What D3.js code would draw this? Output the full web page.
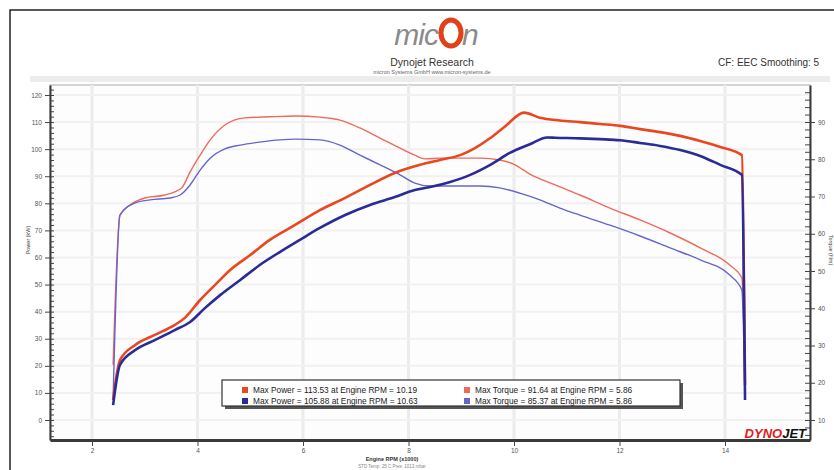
<!DOCTYPE html>
<html>
<head>
<meta charset="utf-8">
<script src="https://cdn.jsdelivr.net/npm/d3@7"></script>
<style>
	body { margin: 0; background: #fff; }
	svg { display: block; font-family: "Liberation Sans", Arial, sans-serif; }
</style>
</head>
<body>
<svg id="chart" width="834" height="470"></svg>
<script>
// engine rpm (x1000) for each run, one list per curve
const rpmRedPower = [2.40, 2.53, 2.82, 3.19, 3.57, 3.76, 4.05, 4.33, 4.62, 5.00, 5.37, 5.85, 6.32, 6.80, 7.27, 7.74, 8.22, 8.60, 8.98, 9.26, 9.55, 9.83, 10.19, 10.49, 10.87, 11.25, 11.63, 12.01, 12.39, 12.77, 13.15, 13.53, 13.91, 14.32, 14.38];
const redPower = [7.4, 22.1, 27.7, 31.4, 35.1, 37.7, 44.3, 49.8, 55.4, 60.9, 66.5, 72.0, 77.5, 82.0, 86.8, 91.2, 94.2, 96.0, 97.8, 100.4, 104.1, 108.4, 113.5, 111.6, 110.6, 110.0, 109.3, 108.6, 107.4, 106.3, 104.9, 103.0, 100.8, 97.8, 12.9];

const rpmBluePower = [2.40, 2.53, 2.82, 3.19, 3.57, 3.86, 4.14, 4.43, 4.81, 5.18, 5.56, 5.94, 6.32, 6.80, 7.27, 7.74, 8.12, 8.41, 8.79, 9.17, 9.55, 9.92, 10.30, 10.63, 10.78, 11.25, 11.63, 12.01, 12.39, 12.77, 13.15, 13.53, 13.91, 14.32, 14.38];
const bluePower = [5.5, 20.3, 25.8, 29.5, 33.2, 36.2, 41.3, 46.1, 51.7, 57.2, 62.0, 66.5, 70.9, 75.7, 79.4, 82.3, 84.9, 86.0, 87.9, 90.5, 94.2, 98.6, 101.8, 104.3, 104.2, 104.0, 103.7, 103.3, 102.3, 101.2, 99.7, 97.5, 94.2, 90.5, 7.4];

const rpmRedTorque = [2.40, 2.53, 2.72, 3.00, 3.38, 3.70, 3.86, 4.05, 4.24, 4.52, 4.90, 5.37, 5.86, 6.32, 6.70, 7.08, 7.46, 7.84, 8.12, 8.31, 8.60, 8.98, 9.36, 9.73, 10.02, 10.30, 10.78, 11.25, 11.82, 12.39, 12.96, 13.53, 14.09, 14.32, 14.38];
const redTorque = [24.8, 65.0, 67.7, 69.6, 70.4, 72.3, 76.6, 81.1, 85.2, 89.2, 91.1, 91.4, 91.6, 91.3, 90.5, 88.4, 85.7, 83.0, 81.1, 80.1, 80.3, 80.3, 80.3, 79.8, 78.5, 76.0, 73.1, 70.4, 66.9, 63.7, 60.2, 56.2, 51.6, 48.1, 20.7];

const rpmBlueTorque = [2.40, 2.53, 2.82, 3.10, 3.48, 3.67, 3.86, 4.05, 4.24, 4.52, 4.81, 5.18, 5.56, 5.86, 6.32, 6.70, 7.08, 7.46, 7.84, 8.12, 8.41, 8.98, 9.36, 9.73, 10.11, 10.49, 10.87, 11.25, 11.82, 12.39, 12.96, 13.53, 14.09, 14.32, 14.38];
const blueTorque = [15.4, 65.0, 68.3, 69.1, 69.6, 70.4, 73.1, 77.1, 80.3, 82.8, 83.8, 84.6, 85.2, 85.4, 85.2, 83.8, 81.1, 78.5, 75.8, 73.6, 72.8, 72.8, 72.8, 72.3, 70.9, 69.1, 66.9, 65.0, 62.3, 59.4, 56.2, 53.0, 48.9, 44.9, 15.4];

const xTicks = [2, 4, 6, 8, 10, 12, 14];
const powerTicks = [0, 10, 20, 30, 40, 50, 60, 70, 80, 90, 100, 110, 120];
const torqueTicks = [10, 20, 30, 40, 50, 60, 70, 80, 90];

const legendLines = [
	["Max Power = 113.53 at Engine RPM = 10.19", "Max Torque = 91.64 at Engine RPM = 5.86"],
	["Max Power = 105.88 at Engine RPM = 10.63", "Max Torque = 85.37 at Engine RPM = 5.86"],
];

const red = "#e8471f";
const blue = "#2b2b98";
const redLight = "#ef6a5a";
const blueLight = "#6565cc";

function drawChart() {
	const svg = d3.select("#chart");
	const plot = { left: 50, right: 810, top: 85, bottom: 440 };

	// outer frame
	svg.append("path")
		.attr("d", "M10,470 L10,10 L834,10")
		.attr("fill", "none")
		.attr("stroke", "#222")
		.attr("stroke-width", 1.5);

	// header: logo + titles
	const logo = svg.append("g");
	logo.append("text")
		.attr("x", 438)
		.attr("y", 45)
		.attr("text-anchor", "end")
		.attr("font-size", 30)
		.attr("font-style", "italic")
		.attr("fill", "#8a8a8a")
		.attr("letter-spacing", -1)
		.text("mic");
	logo.append("ellipse")
		.attr("cx", 451)
		.attr("cy", 33)
		.attr("rx", 10)
		.attr("ry", 13)
		.attr("fill", "none")
		.attr("stroke", "#e0401a")
		.attr("stroke-width", 5);
	logo.append("text")
		.attr("x", 462)
		.attr("y", 45)
		.attr("font-size", 30)
		.attr("font-style", "italic")
		.attr("fill", "#8a8a8a")
		.text("n");

	svg.append("text")
		.attr("x", 432)
		.attr("y", 66)
		.attr("text-anchor", "middle")
		.attr("font-size", 10.5)
		.attr("fill", "#333")
		.text("Dynojet Research");
	svg.append("text")
		.attr("x", 432)
		.attr("y", 74)
		.attr("text-anchor", "middle")
		.attr("font-size", 5.5)
		.attr("fill", "#666")
		.text("micron Systems GmbH  www.micron-systems.de");
	svg.append("text")
		.attr("x", 718)
		.attr("y", 66)
		.attr("font-size", 10)
		.attr("fill", "#333")
		.text("CF: EEC Smoothing: 5");

	svg.append("rect")
		.attr("x", 30)
		.attr("y", 76)
		.attr("width", 800)
		.attr("height", 6)
		.attr("fill", "#ececec");

	const x = d3.scaleLinear()
		.domain([2 + (plot.left - 92) / 52.75, 2 + (plot.right - 92) / 52.75])
		.range([plot.left, plot.right]);
	const yPower = d3.scaleLinear()
		.domain([120 - (plot.bottom - 95) / 2.708, 120 + (95 - plot.top) / 2.708])
		.range([plot.bottom, plot.top]);
	const yTorque = d3.scaleLinear()
		.domain([90 - (plot.bottom - 122) / 3.725, 90 + (122 - plot.top) / 3.725])
		.range([plot.bottom, plot.top]);

	// plot background and grid
	svg.append("rect")
		.attr("x", plot.left)
		.attr("y", plot.top)
		.attr("width", plot.right - plot.left)
		.attr("height", plot.bottom - plot.top)
		.attr("fill", "#fdfdfd")
		.attr("stroke", "#aaa");

	svg.append("g")
		.selectAll("line")
		.data(xTicks)
		.join("line")
		.attr("x1", (d) => x(d))
		.attr("x2", (d) => x(d))
		.attr("y1", plot.top)
		.attr("y2", plot.bottom)
		.attr("stroke", "#ececec")
		.attr("stroke-width", 3);
	svg.append("g")
		.selectAll("line")
		.data(powerTicks)
		.join("line")
		.attr("x1", plot.left)
		.attr("x2", plot.right)
		.attr("y1", (d) => yPower(d))
		.attr("y2", (d) => yPower(d))
		.attr("stroke", "#f1f1f1")
		.attr("stroke-width", 2);

	// axes
	const leftMinor = svg.append("g")
		.attr("transform", "translate(" + plot.left + ",0)")
		.call(d3.axisRight(yPower).tickValues(d3.range(-6, 124, 2)).tickSize(4).tickFormat(""));
	const leftAxis = svg.append("g")
		.attr("transform", "translate(" + plot.left + ",0)")
		.call(d3.axisLeft(yPower).tickValues(powerTicks).tickSize(5).tickSizeOuter(0));
	const rightMinor = svg.append("g")
		.attr("transform", "translate(" + plot.right + ",0)")
		.call(d3.axisLeft(yTorque).tickValues(d3.range(6, 100, 2)).tickSize(5).tickFormat(""));
	const rightAxis = svg.append("g")
		.attr("transform", "translate(" + plot.right + ",0)")
		.call(d3.axisRight(yTorque).tickValues(torqueTicks).tickSize(5).tickSizeOuter(0));
	const bottomAxis = svg.append("g")
		.attr("transform", "translate(0," + plot.bottom + ")")
		.call(d3.axisBottom(x).tickValues(xTicks).tickSize(6).tickPadding(2).tickSizeOuter(0));

	[leftMinor, leftAxis, rightMinor, rightAxis, bottomAxis].forEach((g) => {
		g.selectAll("line").attr("stroke", "#444");
		g.selectAll("text").attr("font-size", 6.5).attr("fill", "#555");
	});
	[leftAxis, rightAxis].forEach((g) => {
		g.select(".domain").attr("stroke", "#3a3a3a").attr("stroke-width", 2);
	});
	bottomAxis.select(".domain").attr("stroke", "#3a3a3a").attr("stroke-width", 3);
	leftMinor.select(".domain").remove();
	rightMinor.select(".domain").remove();

	svg.append("text")
		.attr("transform", "translate(30,240) rotate(-90)")
		.attr("text-anchor", "middle")
		.attr("font-size", 5.5)
		.attr("fill", "#444")
		.text("Power (kW)");
	svg.append("text")
		.attr("transform", "translate(829,250) rotate(90)")
		.attr("text-anchor", "middle")
		.attr("font-size", 5.5)
		.attr("fill", "#444")
		.text("Torque (Nm)");
	svg.append("text")
		.attr("x", 392)
		.attr("y", 461)
		.attr("text-anchor", "middle")
		.attr("font-size", 5.5)
		.attr("font-weight", "bold")
		.attr("fill", "#333")
		.text("Engine RPM (x1000)");
	svg.append("text")
		.attr("x", 392)
		.attr("y", 468)
		.attr("text-anchor", "middle")
		.attr("font-size", 4.5)
		.attr("fill", "#888")
		.text("STD Temp: 25 C  Pres: 1013 mbar");

	// curves
	const curves = [
		{ rpm: rpmRedTorque, vals: redTorque, y: yTorque, color: redLight, w: 1.4 },
		{ rpm: rpmBlueTorque, vals: blueTorque, y: yTorque, color: blueLight, w: 1.4 },
		{ rpm: rpmRedPower, vals: redPower, y: yPower, color: red, w: 2.6 },
		{ rpm: rpmBluePower, vals: bluePower, y: yPower, color: blue, w: 2.6 },
	];
	curves.forEach((c) => {
		const pts = c.rpm.map((r, i) => [r, c.vals[i]]);
		const line = d3.line()
			.x((d) => x(d[0]))
			.y((d) => c.y(d[1]))
			.curve(d3.curveMonotoneX);
		svg.append("path")
			.datum(pts)
			.attr("d", line)
			.attr("fill", "none")
			.attr("stroke", c.color)
			.attr("stroke-width", c.w)
			.attr("stroke-linejoin", "round");
	});

	// legend
	const lg = svg.append("g").attr("transform", "translate(222,380)");
	lg.append("rect")
		.attr("x", 3)
		.attr("y", 3)
		.attr("width", 458)
		.attr("height", 26)
		.attr("fill", "#555");
	lg.append("rect")
		.attr("width", 458)
		.attr("height", 26)
		.attr("fill", "#fff")
		.attr("stroke", "#333")
		.attr("stroke-width", 1.2);
	const markColors = [[red, redLight], [blue, blueLight]];
	legendLines.forEach((row, r) => {
		row.forEach((txt, c) => {
			const gx = 20 + c * 222;
			const gy = 7 + r * 11;
			lg.append("rect")
				.attr("x", gx)
				.attr("y", gy)
				.attr("width", 6)
				.attr("height", 6)
				.attr("fill", markColors[r][c]);
			lg.append("text")
				.attr("x", gx + 11)
				.attr("y", gy + 6)
				.attr("font-size", 8.3)
				.attr("fill", "#222")
				.text(txt);
		});
	});

	// dynojet mark
	const dj = svg.append("text")
		.attr("x", 806)
		.attr("y", 438)
		.attr("text-anchor", "end")
		.attr("font-size", 13)
		.attr("font-weight", "bold")
		.attr("font-style", "italic");
	dj.append("tspan").attr("fill", "#e0201a").text("DYNO");
	dj.append("tspan").attr("fill", "#111").text("JET");
}

drawChart();
</script>
</body>
</html>
